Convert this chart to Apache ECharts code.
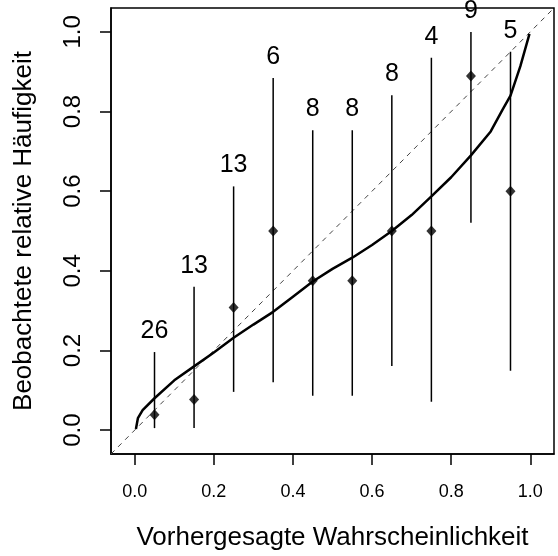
<!DOCTYPE html>
<html><head><meta charset="utf-8">
<script src="https://cdn.jsdelivr.net/npm/echarts@6/dist/echarts.min.js"></script>
<style>html,body{margin:0;padding:0;background:#fff}#c{width:558px;height:556px}</style>
</head><body><div id="c"></div>
<script>
const tickValues = [0, 0.2, 0.4, 0.6, 0.8, 1.0];
const binX = [0.05, 0.15, 0.25, 0.35, 0.45, 0.55, 0.65, 0.75, 0.85, 0.95];
const obsFreq = [0.0385, 0.077, 0.308, 0.5, 0.375, 0.375, 0.5, 0.5, 0.889, 0.6];
const lowerCI = [0.005, 0.005, 0.096, 0.12, 0.086, 0.086, 0.161, 0.071, 0.521, 0.149];
const upperCI = [0.196, 0.36, 0.612, 0.884, 0.753, 0.753, 0.841, 0.935, 1.0, 0.95];
const counts = [26, 13, 13, 6, 8, 8, 8, 4, 9, 5];
const curveX = [0.003, 0.008, 0.02, 0.05, 0.1, 0.15, 0.2, 0.25, 0.3, 0.35, 0.4, 0.45, 0.5, 0.55, 0.6, 0.65, 0.7, 0.75, 0.8, 0.85, 0.9, 0.93, 0.95, 0.975, 0.998];
const curveY = [0.003, 0.03, 0.05, 0.08, 0.125, 0.16, 0.195, 0.232, 0.265, 0.297, 0.335, 0.373, 0.405, 0.433, 0.465, 0.5, 0.54, 0.587, 0.635, 0.69, 0.75, 0.805, 0.84, 0.914, 0.995];
const diagX = [-0.06, 1.06];

const font = '"Liberation Sans", Arial, sans-serif';
const chart = echarts.init(document.getElementById('c'), null, {renderer: 'canvas'});
const fmt = v => v.toFixed(1);

chart.setOption({
  animation: false,
  grid: {left: 111, right: 4, top: 8, bottom: 102, show: true, borderColor: '#000', borderWidth: 1.5, backgroundColor: 'transparent'},
  xAxis: {
    type: 'value', min: -0.06, max: 1.06,
    name: 'Vorhergesagte Wahrscheinlichkeit', nameLocation: 'middle', nameGap: 71,
    nameTextStyle: {fontFamily: font, fontSize: 26, color: '#000'},
    axisLine: {show: true, onZero: false, lineStyle: {color: '#000', width: 1.5}},
    axisTick: {show: true, inside: false, length: 11, customValues: tickValues, lineStyle: {color: '#000', width: 1.5}},
    axisLabel: {customValues: tickValues, formatter: fmt, margin: 29, fontFamily: font, fontSize: 18, color: '#000'},
    splitLine: {show: false}
  },
  yAxis: {
    type: 'value', min: -0.06, max: 1.06,
    name: 'Beobachtete relative Häufigkeit', nameLocation: 'middle', nameGap: 74, nameRotate: 90,
    nameTextStyle: {fontFamily: font, fontSize: 26, color: '#000'},
    axisLine: {show: true, onZero: false, lineStyle: {color: '#000', width: 1.5}},
    axisTick: {show: true, inside: false, length: 11, customValues: tickValues, lineStyle: {color: '#000', width: 1.5}},
    axisLabel: {customValues: tickValues, formatter: fmt, rotate: 90, margin: 26, fontFamily: font, fontSize: 24, color: '#000'},
    splitLine: {show: false}
  },
  series: [
    {
      type: 'line', data: diagX.map(v => [v, v]), showSymbol: false, symbol: 'none',
      lineStyle: {color: '#444', width: 1, type: [5, 5]}, z: 1
    },
    {
      type: 'custom', z: 2, clip: false,
      data: binX.map((x, i) => [x, lowerCI[i], upperCI[i], counts[i]]),
      renderItem: (params, api) => {
        const lo = api.coord([api.value(0), api.value(1)]);
        const hi = api.coord([api.value(0), api.value(2)]);
        return {
          type: 'group',
          children: [
            {type: 'line', shape: {x1: lo[0], y1: lo[1], x2: hi[0], y2: hi[1]}, style: {stroke: '#000', lineWidth: 1.5}},
            {type: 'text', style: {x: hi[0], y: hi[1] - 21, text: String(api.value(3)), textAlign: 'center', textVerticalAlign: 'middle', font: '25px ' + font, fill: '#000'}}
          ]
        };
      }
    },
    {
      type: 'line', data: curveX.map((x, i) => [x, curveY[i]]), showSymbol: false, symbol: 'none',
      lineStyle: {color: '#000', width: 2.5}, z: 3
    },
    {
      type: 'scatter', data: binX.map((x, i) => [x, obsFreq[i]]), symbol: 'diamond', symbolSize: [10, 11],
      itemStyle: {color: '#000'}, z: 4
    }
  ]
});
</script>
</body></html>
